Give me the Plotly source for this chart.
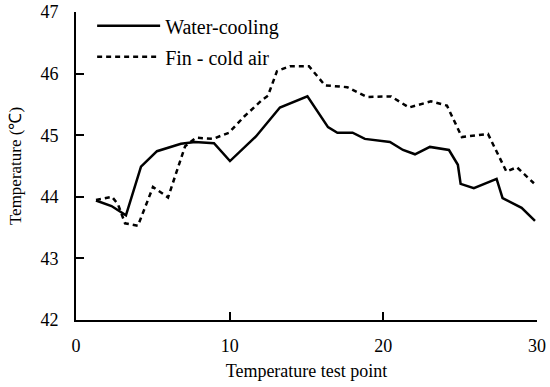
import plotly.graph_objects as go

# Water-cooling series (test point position, temperature °C)
water_x = [1.30, 2.31, 3.25, 4.23, 5.27, 6.83, 7.74, 8.98, 10.02, 11.71, 13.27, 15.06, 16.40, 17.01,
           18.00, 18.80, 20.43, 21.28, 22.06, 23.03, 24.27, 24.85, 25.03, 25.89, 27.37, 27.76, 29.00, 29.87]
water_y = [43.94, 43.85, 43.70, 44.49, 44.74, 44.86, 44.89, 44.87, 44.58, 44.98, 45.45, 45.63, 45.13, 45.04,
           45.04, 44.94, 44.89, 44.76, 44.69, 44.81, 44.76, 44.52, 44.21, 44.14, 44.29, 43.98, 43.82, 43.61]

# Fin - cold air series
fin_x = [1.30, 2.34, 2.73, 3.19, 4.03, 5.01, 5.99, 7.10, 7.81, 8.91, 9.95, 10.93, 12.10, 12.49, 13.08,
         13.92, 15.16, 16.20, 17.64, 18.93, 20.50, 21.67, 23.10, 24.14, 25.11, 26.81, 28.01, 28.69, 29.80]
fin_y = [43.95, 44.00, 43.88, 43.57, 43.53, 44.16, 43.99, 44.82, 44.96, 44.94, 45.04, 45.30, 45.57, 45.64,
         46.04, 46.12, 46.12, 45.81, 45.78, 45.62, 45.63, 45.45, 45.55, 45.48, 44.97, 45.02, 44.41, 44.48, 44.22]

x_ticks = [0, 10, 20, 30]
y_ticks = [42, 43, 44, 45, 46, 47]

FONT = "Liberation Serif, Times New Roman, serif"

fig = go.Figure()
fig.add_trace(go.Scatter(x=water_x, y=water_y, mode="lines", name="Water-cooling",
                         legendgroup="a",
                         line=dict(color="black", width=2.5)))
fig.add_trace(go.Scatter(x=fin_x, y=fin_y, mode="lines", name="Fin - cold air",
                         legendgroup="b",
                         line=dict(color="black", width=2.5, dash="5px,4px")))

fig.update_layout(
    width=550, height=387,
    margin=dict(l=76, r=13, t=12, b=67, autoexpand=False),
    paper_bgcolor="white", plot_bgcolor="white",
    font=dict(family=FONT, size=18, color="black"),
    showlegend=True,
    legend=dict(x=0.035, y=0.984, xanchor="left", yanchor="top", yref="container",
                bgcolor="rgba(0,0,0,0)", font=dict(size=20, family=FONT),
                traceorder="grouped", tracegroupgap=2, itemwidth=63),
    xaxis=dict(range=[0, 30], tickvals=x_ticks, ticktext=[str(v) for v in x_ticks],
               automargin=False,
               showgrid=False, zeroline=False, showline=True, linecolor="black", linewidth=2,
               ticks="inside", ticklen=8, tickwidth=2, tickcolor="black", ticklabelstandoff=8,
               title=dict(text="Temperature test point", font=dict(size=18, family=FONT), standoff=10),
               tickfont=dict(size=18, family=FONT)),
    yaxis=dict(range=[42, 47], tickvals=y_ticks, ticktext=[str(v) for v in y_ticks],
               automargin=False,
               showgrid=False, zeroline=False, showline=True, linecolor="black", linewidth=2,
               ticks="inside", ticklen=8, tickwidth=2, tickcolor="black", ticklabelstandoff=12,
               title=dict(text="Temperature (℃)", font=dict(size=17, family=FONT), standoff=14),
               tickfont=dict(size=18, family=FONT)),
)

fig.write_html("out.html", config={"displayModeBar": False},
               post_script="document.body.style.margin='0';")
